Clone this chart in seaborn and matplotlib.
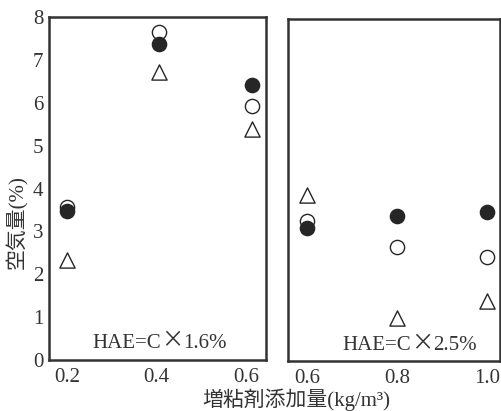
import matplotlib
matplotlib.use("Agg")
import matplotlib.pyplot as plt
import seaborn as sns
import pandas as pd
from matplotlib.offsetbox import TextArea, HPacker, AnchoredOffsetbox

sns.set_theme(style="white")
plt.rcParams['font.family'] = ['Liberation Serif', 'Noto Sans CJK JP']

# Left panel: HAE = C x 1.6%
x_left = [0.2, 0.405, 0.613]
filled_left = [3.48, 7.38, 6.41]
open_left = [3.57, 7.65, 5.94]
tri_left = [2.33, 6.72, 5.40]

# Right panel: HAE = C x 2.5%
x_right = [0.6, 0.8, 1.0]
filled_right = [3.10, 3.39, 3.48]
open_right = [3.27, 2.67, 2.44]
tri_right = [3.88, 1.00, 1.40]

left_ticks = [0.2, 0.4, 0.6]
right_ticks = [0.6, 0.8, 1.0]
y_ticks = [0, 1, 2, 3, 4, 5, 6, 7, 8]

ylabel = "空気量(%)"
xlabel = "増粘剤添加量(kg/m³)"
ann_left = ("HAE=C", "×", "1.6%")
ann_right = ("HAE=C", "×", "2.5%")

fig = plt.figure(figsize=(5.01, 4.11), dpi=100)
ax1 = fig.add_axes([0.098, 0.124, 0.433, 0.834])
ax2 = fig.add_axes([0.575, 0.122, 0.423, 0.832])

dark = "#262626"
txt = "#333333"

def draw(ax, xs, filled, opn, tri):
    d_tri = pd.DataFrame({"x": xs, "y": tri})
    d_open = pd.DataFrame({"x": xs, "y": opn})
    d_fill = pd.DataFrame({"x": xs, "y": filled})
    sns.scatterplot(data=d_tri, x="x", y="y", ax=ax, marker="^", s=120,
                    facecolor="white", edgecolor=dark, linewidth=1.0, zorder=3)
    sns.scatterplot(data=d_open, x="x", y="y", ax=ax, marker="o", s=105,
                    facecolor="white", edgecolor=dark, linewidth=1.0, zorder=3)
    sns.scatterplot(data=d_fill, x="x", y="y", ax=ax, marker="o", s=105,
                    facecolor=dark, edgecolor=dark, linewidth=1.0, zorder=4)
    ax.set_ylim(0, 8)
    ax.set_yticks(y_ticks)
    ax.set_xlabel("")
    ax.set_ylabel("")
    for sp in ax.spines.values():
        sp.set_linewidth(1.8)
        sp.set_color("#333333")
    ax.tick_params(direction="in", length=4, width=0.8, colors="#555555",
                   labelcolor=txt, labelsize=15)

def annotate(ax, parts, xpos, ypos):
    a = TextArea(parts[0], textprops=dict(fontsize=15, color=txt))
    b = TextArea(parts[1], textprops=dict(fontsize=16, color=txt,
                                          family=['Noto Sans CJK JP']))
    c = TextArea(parts[2], textprops=dict(fontsize=15, color=txt))
    box = HPacker(children=[a, b, c], align="baseline", pad=0, sep=0)
    anc = AnchoredOffsetbox(loc="center", child=box, frameon=False,
                            bbox_to_anchor=(xpos, ypos),
                            bbox_transform=ax.transAxes, borderpad=0, pad=0)
    ax.add_artist(anc)

draw(ax1, x_left, filled_left, open_left, tri_left)
draw(ax2, x_right, filled_right, open_right, tri_right)

ax1.set_xlim(0.159, 0.645)
ax1.set_xticks(left_ticks)
ax1.set_xticklabels([f"{v:.1f}" for v in left_ticks])
ax1.set_yticklabels([str(v) for v in y_ticks])
ax1.tick_params(axis="y", pad=4)
ax1.tick_params(axis="x", pad=6)

ax2.set_xlim(0.558, 1.028)
ax2.set_xticks(right_ticks)
ax2.set_xticklabels([f"{v:.1f}" for v in right_ticks])
ax2.set_yticklabels([])
ax2.tick_params(axis="x", pad=6)

annotate(ax1, ann_left, 0.51, 0.055)
annotate(ax2, ann_right, 0.575, 0.05)

fig.text(0.035, 0.46, ylabel, rotation=90, ha="center", va="center",
         fontsize=15, color=txt)
fig.text(0.592, 0.028, xlabel, ha="center", va="center", fontsize=15,
         color=txt)

fig.savefig("out.png", dpi=100)
